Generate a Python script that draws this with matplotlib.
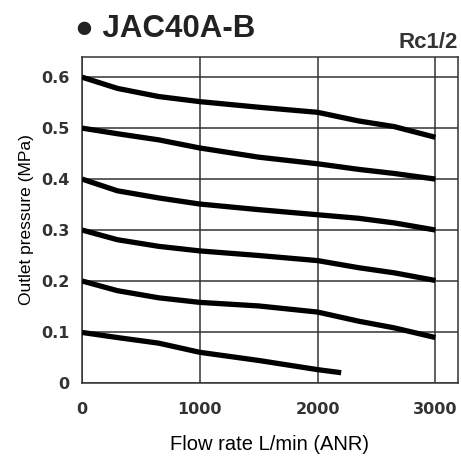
import matplotlib
matplotlib.use("Agg")
import matplotlib.pyplot as plt

# flow rate (L/min) sample points, one list per set pressure
flow = [0, 300, 650, 1000, 1500, 2000, 2350, 2650, 3000]
p06 = [0.600, 0.578, 0.562, 0.552, 0.541, 0.531, 0.514, 0.503, 0.482]
p05 = [0.500, 0.489, 0.477, 0.461, 0.443, 0.430, 0.419, 0.411, 0.400]
p04 = [0.400, 0.377, 0.363, 0.351, 0.340, 0.330, 0.323, 0.314, 0.300]
p03 = [0.300, 0.281, 0.268, 0.259, 0.250, 0.240, 0.226, 0.216, 0.201]
p02 = [0.200, 0.181, 0.167, 0.158, 0.151, 0.139, 0.121, 0.108, 0.089]
flow01 = [0, 300, 650, 1000, 1500, 2000, 2200]
p01 = [0.099, 0.089, 0.078, 0.060, 0.044, 0.026, 0.020]

xticks = [0, 1000, 2000, 3000]
yticks = [0, 0.1, 0.2, 0.3, 0.4, 0.5, 0.6]
ytick_labels = ["0", "0.1", "0.2", "0.3", "0.4", "0.5", "0.6"]

fig = plt.figure(figsize=(4.61, 4.58), dpi=100)
ax = fig.add_axes([0.178, 0.164, 0.815, 0.712])

for ys in [p06, p05, p04, p03, p02]:
    ax.plot(flow, ys, color="black", lw=3.8, solid_capstyle="butt",
            solid_joinstyle="round", zorder=3)
ax.plot(flow01, p01, color="black", lw=3.8, solid_capstyle="butt",
        solid_joinstyle="round", zorder=3)

ax.set_xlim(0, 3190)
ax.set_ylim(0, 0.64)
ax.set_xticks(xticks)
ax.set_yticks(yticks)
ax.set_yticklabels(ytick_labels)
ax.grid(True, color="#333333", lw=1.1)
ax.set_axisbelow(True)
for s in ax.spines.values():
    s.set_color("#333333")
    s.set_linewidth(1.1)
ax.tick_params(length=0, pad=9, labelsize=11.5, colors="#333333")
for lab in ax.get_xticklabels() + ax.get_yticklabels():
    lab.set_fontweight("bold")
ax.tick_params(axis="x", pad=14)

ax.set_xlabel("Flow rate L/min (ANR)", fontsize=14.5, family="Liberation Sans", labelpad=13)
ax.set_ylabel("Outlet pressure (MPa)", fontsize=12.5, family="Liberation Sans", labelpad=5)

fig.text(0.163, 0.937, "\u25cf JAC40A-B", fontsize=22.5, fontweight="bold",
         family="Liberation Sans", color="#222222", va="center")
fig.text(0.993, 0.908, "Rc1/2", fontsize=16, fontweight="bold",
         family="Liberation Sans", color="#333333", ha="right", va="center")

plt.savefig("out.png", dpi=100)
